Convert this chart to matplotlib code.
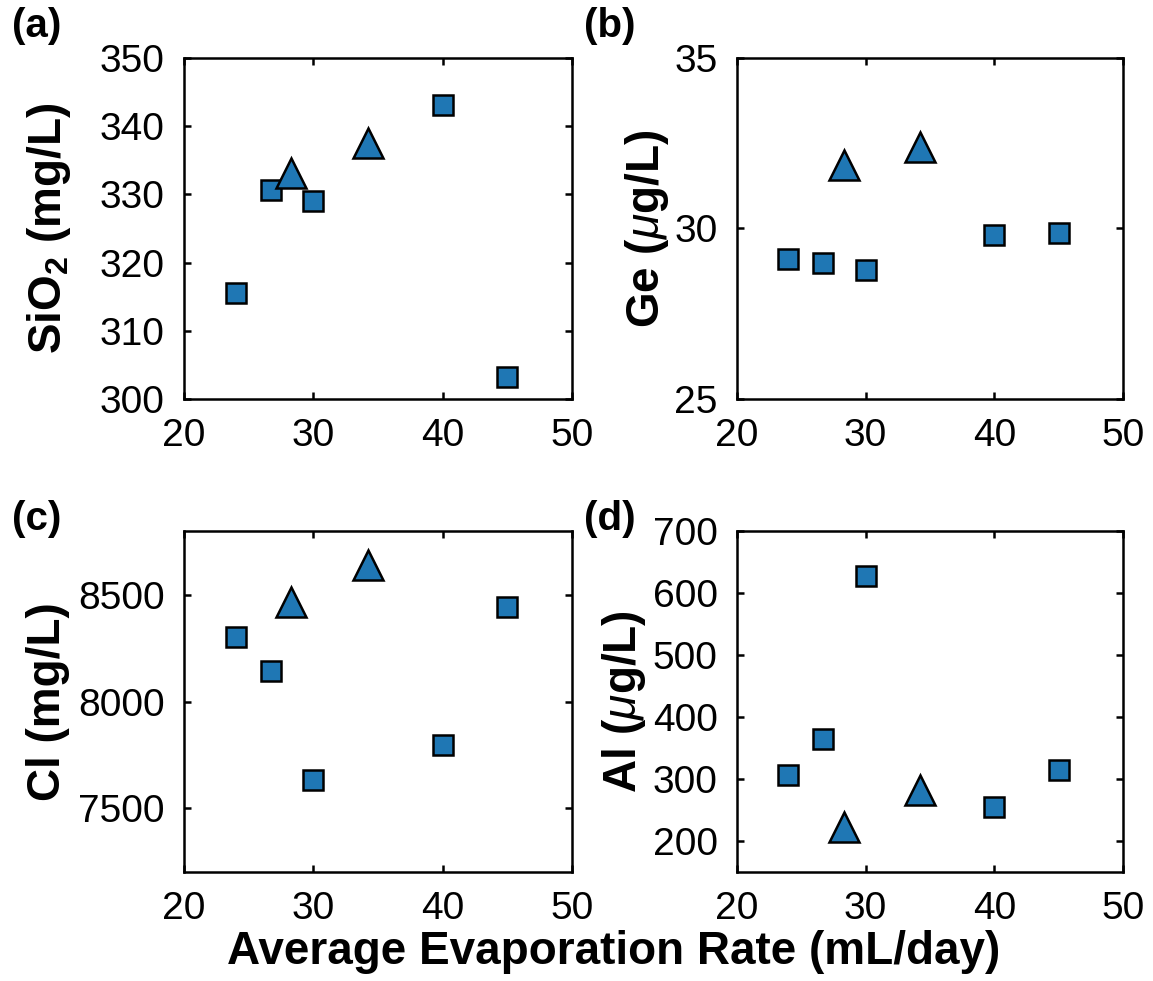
import matplotlib
matplotlib.use('Agg')
import matplotlib.pyplot as plt

# evaporation rate (mL/day) for the two sample groups
evap_sq = [24.0, 26.7, 30.0, 40.0, 45.0]
evap_tri = [28.3, 34.2]

# concentrations
sio2_sq = [315.6, 330.7, 329.1, 343.1, 303.2]
sio2_tri = [333.2, 337.6]
ge_sq = [29.10, 28.99, 28.78, 29.81, 29.86]
ge_tri = [31.86, 32.38]
cl_sq = [8302, 8141, 7633, 7795, 8445]
cl_tri = [8465, 8639]
al_sq = [307, 365, 628, 255, 315]
al_tri = [223, 282]

panel_letters = ['(a)', '(b)', '(c)', '(d)']
ylabels = [r'SiO$_\mathbf{2}$ (mg/L)', r'Ge ($\mu$g/L)', 'Cl (mg/L)', r'Al ($\mu$g/L)']
ylims = [(300, 350), (25, 35), (7200, 8800), (150, 700)]
yticks = [list(range(300, 351, 10)), [25, 30, 35], [7500, 8000, 8500], list(range(200, 701, 100))]
xticks = [20, 30, 40, 50]

plt.rcParams['font.family'] = 'Liberation Sans'
plt.rcParams['mathtext.fontset'] = 'custom'
plt.rcParams['mathtext.rm'] = 'Liberation Sans'
plt.rcParams['mathtext.it'] = 'Liberation Sans:italic'
plt.rcParams['mathtext.bf'] = 'Liberation Sans:bold'

W, H = 1153, 981
fig = plt.figure(figsize=(W / 100, H / 100), dpi=100)

# axes boxes in pixels: left, top, right, bottom
boxes = [(184, 58, 572, 399), (737, 58, 1123, 399),
         (184, 531, 572, 872), (737, 531, 1123, 872)]
label_x = [-0.285, -0.17, -0.295, -0.23]
letter_pos = [(12, 7), (584, 7), (12, 500), (584, 500)]

series = [(sio2_sq, sio2_tri), (ge_sq, ge_tri), (cl_sq, cl_tri), (al_sq, al_tri)]
blue = '#1f77b4'

for i, (sq, tri) in enumerate(series):
    l, t, r, b = boxes[i]
    ax = fig.add_axes([l / W, 1 - b / H, (r - l) / W, (b - t) / H])

    ax.plot(evap_sq, sq, 's', ms=15, mfc=blue, mec='black', mew=1.8, ls='none')
    ax.plot(evap_tri, tri, '^', ms=21, mfc=blue, mec='black', mew=1.8, ls='none')

    ax.set_xlim(20, 50)
    ax.set_xticks(xticks)
    ax.set_ylim(*ylims[i])
    ax.set_yticks(yticks[i])

    ax.tick_params(direction='in', top=True, right=True, length=5, width=1.8,
                   labelsize=28, pad=14)
    for s in ax.spines.values():
        s.set_linewidth(1.8)

    ax.set_ylabel(ylabels[i], fontsize=33, fontweight='bold')
    ax.yaxis.set_label_coords(label_x[i], 0.5)

    lx, ly = letter_pos[i]
    fig.text(lx / W, 1 - ly / H, panel_letters[i], fontsize=29, fontweight='bold',
             ha='left', va='top')

fig.text(614 / W, 1 - 964 / H, 'Average Evaporation Rate (mL/day)',
         fontsize=33, fontweight='bold', ha='center', va='baseline')

fig.savefig('out.png', dpi=100)
